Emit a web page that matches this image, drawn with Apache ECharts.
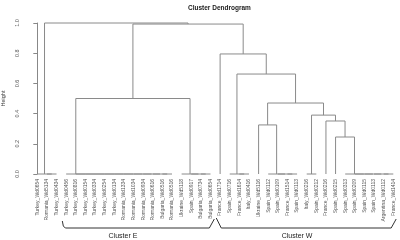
<!DOCTYPE html>
<html>
<head>
<meta charset="utf-8">
<script src="https://cdn.jsdelivr.net/npm/echarts@6/dist/echarts.min.js"></script>
<style>
  html, body { margin: 0; padding: 0; background: #fff; }
  #chart { width: 400px; height: 240px; }
</style>
</head>
<body>
<div id="chart"></div>
<script>
  var leafLabels = [
    'Turkey_Wd0654', 'Romania_Wd5134', 'Turkey_Wd0434', 'Turkey_Wd0456', 'Turkey_Wd0816',
    'Turkey_Wd0154', 'Turkey_Wd0334', 'Turkey_Wd0254', 'Turkey_Wd0134', 'Romania_Wd1334',
    'Romania_Wd1034', 'Romania_Wd0934', 'Romania_Wd0616', 'Bulgaria_Wd0516', 'Romania_Wd0516',
    'Ukraine_Wd5118', 'Spain_Wd0917', 'Bulgaria_Wd0734', 'Bulgaria_Wd0654', 'France_Wd1714',
    'Spain_Wd0716', 'France_Wd1614', 'Italy_Wd0416', 'Ukraine_Wd5116', 'Spain_Wd0112',
    'Spain_Wd0109', 'France_Wd1514', 'Spain_Wd0113', 'Italy_Wd0216', 'Spain_Wd0212',
    'France_Wd0216', 'Spain_Wd0215', 'Spain_Wd0313', 'Spain_Wd0209', 'Spain_Wd0115',
    'Spain_Wd0113', 'Argentina_Wd0112', 'France_Wd1414'
  ]

  // hclust style: negative = leaf number (1-based), positive = earlier merge row
  var merges = [
    [-2, -3, 0], [-1, 1, 0],
    [-14, -15, 0], [-13, 3, 0], [-12, 4, 0], [-11, 5, 0], [-10, 6, 0],
    [-9, 7, 0], [-8, 8, 0], [-7, 9, 0], [-6, 10, 0], [-5, 11, 0], [-4, 12, 0],
    [-18, -19, 0], [-17, 14, 0], [-16, 15, 0],
    [13, 16, 0.5],
    [-22, -23, 0], [-21, 18, 0],
    [-27, -28, 0], [-26, 20, 0], [-25, 21, 0], [-24, 22, 0.325],
    [-29, -30, 0],
    [-37, -38, 0], [-36, 25, 0], [-35, 26, 0], [-34, 27, 0], [-33, 28, 0],
    [-32, 29, 0.245], [-31, 30, 0.351], [24, 31, 0.39],
    [23, 32, 0.47], [19, 33, 0.662], [-20, 34, 0.795],
    [17, 35, 0.993], [2, 36, 1.0]
  ]

  var clusterNames = ['Cluster E', 'Cluster W']
  var clusterFrom = [2.6, 18.6]
  var clusterTo = [18.4, 37.3]
  var clusterLabelAt = [8.9, 27.0]

  // leaf x = its order, merge x = middle of its two children
  var mergeX = []
  var mergeH = []
  function nodeX (ref) { return ref < 0 ? -ref - 1 : mergeX[ref - 1] }
  function nodeH (ref) { return ref < 0 ? 0 : mergeH[ref - 1] }
  var segs = merges.map(function (m, k) {
    var xa = nodeX(m[0])
    var xb = nodeX(m[1])
    mergeX[k] = (xa + xb) / 2
    mergeH[k] = m[2]
    return [xa, xb, nodeH(m[0]), nodeH(m[1]), m[2]]
  })

  var brackets = clusterNames.map(function (n, i) {
    return [clusterFrom[i], clusterTo[i], clusterLabelAt[i]]
  })

  var chart = echarts.init(document.getElementById('chart'))
  chart.setOption({
    backgroundColor: '#fff',
    animation: false,
    title: {
      text: 'Cluster Dendrogram',
      left: 183,
      top: 0,
      textStyle: { fontFamily: 'Liberation Sans', fontSize: 6.5, fontWeight: 'bold', color: '#222' }
    },
    grid: { left: 37.3, right: 6.7, top: 23, bottom: 66, outerBoundsMode: 'none', containLabel: false },
    xAxis: {
      type: 'value',
      min: 0,
      max: leafLabels.length - 1,
      interval: 1,
      axisLine: { show: false },
      axisTick: { show: false },
      splitLine: { show: false },
      axisLabel: {
        rotate: 90,
        margin: 5,
        fontSize: 5,
        fontFamily: 'Liberation Sans',
        color: '#555',
        formatter: function (v) { return leafLabels[v] || '' }
      }
    },
    yAxis: {
      type: 'value',
      min: 0,
      max: 1,
      interval: 0.2,
      offset: 11,
      name: 'Height',
      nameLocation: 'middle',
      nameRotate: 90,
      nameGap: 19,
      nameTextStyle: { fontFamily: 'Liberation Sans', fontSize: 5.5, color: '#444' },
      axisLine: { show: true, lineStyle: { color: '#888', width: 1 } },
      axisTick: { show: true, length: 4, lineStyle: { color: '#888' } },
      splitLine: { show: false },
      axisLabel: {
        rotate: 90,
        margin: 6,
        fontSize: 5.5,
        fontFamily: 'Liberation Sans',
        color: '#555',
        formatter: function (v) { return v.toFixed(1) }
      }
    },
    series: [
      {
        type: 'custom',
        data: segs,
        encode: { x: [0, 1], y: [2, 3, 4] },
        clip: false,
        renderItem: function (params, api) {
          var xa = api.value(0), xb = api.value(1)
          var ha = api.value(2), hb = api.value(3), h = api.value(4)
          return {
            type: 'polyline',
            shape: { points: [api.coord([xa, ha]), api.coord([xa, h]), api.coord([xb, h]), api.coord([xb, hb])] },
            style: { stroke: '#8a8a8a', lineWidth: 1, fill: null }
          }
        }
      },
      {
        type: 'custom',
        data: brackets,
        encode: { x: [0, 1] },
        clip: false,
        silent: true,
        renderItem: function (params, api) {
          var a = api.coord([api.value(0), 0])
          var b = api.coord([api.value(1), 0])
          var c = api.coord([api.value(2), 0])
          var y0 = a[1]
          var left = params.dataIndex === 0
            ? [[a[0], y0 + 47], [a[0] + 1, y0 + 52], [a[0] + 3, y0 + 54]]
            : [[a[0], y0 + 44], [a[0] + 5, y0 + 54]]
          var pts = left.concat([[b[0] - 5, y0 + 54], [b[0], y0 + 45]])
          return {
            type: 'group',
            children: [
              {
                type: 'polyline',
                shape: { points: pts },
                style: { stroke: '#333', lineWidth: 1, fill: null }
              },
              {
                type: 'text',
                x: c[0],
                y: y0 + 62,
                style: {
                  text: clusterNames[params.dataIndex],
                  fontFamily: 'Liberation Sans',
                  fontSize: 7,
                  fill: '#222',
                  align: 'center',
                  verticalAlign: 'middle'
                }
              }
            ]
          }
        }
      }
    ]
  })
</script>
</body>
</html>
